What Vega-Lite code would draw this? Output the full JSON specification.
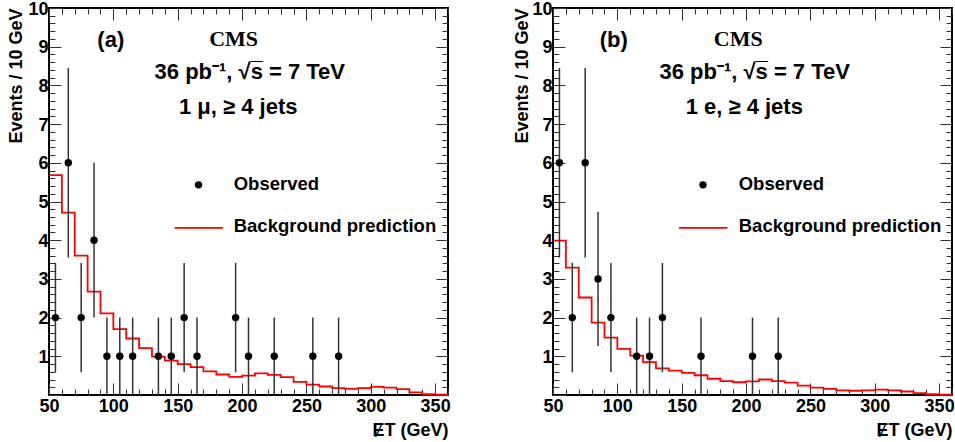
{
"$schema": "https://vega.github.io/schema/vega-lite/v6.json",
"padding": {"left": 6, "top": -1, "right": 0, "bottom": 0},
"spacing": 59,
"datasets": {
"bkgA": [{"x":50,"y":5.68},{"x":60,"y":4.71},{"x":70,"y":3.6},{"x":80,"y":2.67},{"x":90,"y":2.11},{"x":100,"y":1.7},{"x":110,"y":1.46},{"x":120,"y":1.21},{"x":130,"y":0.99},{"x":140,"y":0.89},{"x":150,"y":0.8},{"x":160,"y":0.72},{"x":170,"y":0.61},{"x":180,"y":0.53},{"x":190,"y":0.47},{"x":200,"y":0.5},{"x":210,"y":0.56},{"x":220,"y":0.52},{"x":230,"y":0.46},{"x":240,"y":0.34},{"x":250,"y":0.27},{"x":260,"y":0.22},{"x":270,"y":0.18},{"x":280,"y":0.16},{"x":290,"y":0.18},{"x":300,"y":0.21},{"x":310,"y":0.19},{"x":320,"y":0.15},{"x":330,"y":0.07},{"x":340,"y":0.02},{"x":350,"y":0.01},{"x":360,"y":0.01}],
"bkgB": [{"x":50,"y":3.99},{"x":60,"y":3.29},{"x":70,"y":2.52},{"x":80,"y":1.87},{"x":90,"y":1.48},{"x":100,"y":1.19},{"x":110,"y":1.02},{"x":120,"y":0.85},{"x":130,"y":0.69},{"x":140,"y":0.63},{"x":150,"y":0.57},{"x":160,"y":0.51},{"x":170,"y":0.42},{"x":180,"y":0.36},{"x":190,"y":0.33},{"x":200,"y":0.35},{"x":210,"y":0.4},{"x":220,"y":0.36},{"x":230,"y":0.32},{"x":240,"y":0.24},{"x":250,"y":0.19},{"x":260,"y":0.16},{"x":270,"y":0.12},{"x":280,"y":0.11},{"x":290,"y":0.12},{"x":300,"y":0.14},{"x":310,"y":0.12},{"x":320,"y":0.09},{"x":330,"y":0.05},{"x":340,"y":0.02},{"x":350,"y":0.01},{"x":360,"y":0.01}],
"obsA": [{"x":55,"n":2,"lo":0.586,"hi":3.414},{"x":65,"n":6,"lo":3.551,"hi":8.449},{"x":75,"n":2,"lo":0.586,"hi":3.414},{"x":85,"n":4,"lo":2,"hi":6},{"x":95,"n":1,"lo":0,"hi":2},{"x":105,"n":1,"lo":0,"hi":2},{"x":115,"n":1,"lo":0,"hi":2},{"x":135,"n":1,"lo":0,"hi":2},{"x":145,"n":1,"lo":0,"hi":2},{"x":155,"n":2,"lo":0.586,"hi":3.414},{"x":165,"n":1,"lo":0,"hi":2},{"x":195,"n":2,"lo":0.586,"hi":3.414},{"x":205,"n":1,"lo":0,"hi":2},{"x":225,"n":1,"lo":0,"hi":2},{"x":255,"n":1,"lo":0,"hi":2},{"x":275,"n":1,"lo":0,"hi":2}],
"obsB": [{"x":55,"n":6,"lo":3.551,"hi":8.449},{"x":65,"n":2,"lo":0.586,"hi":3.414},{"x":75,"n":6,"lo":3.551,"hi":8.449},{"x":85,"n":3,"lo":1.268,"hi":4.732},{"x":95,"n":2,"lo":0.586,"hi":3.414},{"x":115,"n":1,"lo":0,"hi":2},{"x":125,"n":1,"lo":0,"hi":2},{"x":135,"n":2,"lo":0.586,"hi":3.414},{"x":165,"n":1,"lo":0,"hi":2},{"x":205,"n":1,"lo":0,"hi":2},{"x":225,"n":1,"lo":0,"hi":2}],
"headA": [{"x":98,"y":9.17,"label":"(a)"},{"x":206,"y":8.35,"label":"36 pb⁻¹, √s̅ = 7 TeV"},{"x":197,"y":7.43,"label":"1 μ, ≥ 4 jets"}],
"headB": [{"x":97.2,"y":9.17,"label":"(b)"},{"x":206.7,"y":8.35,"label":"36 pb⁻¹, √s̅ = 7 TeV"},{"x":198.6,"y":7.43,"label":"1 e, ≥ 4 jets"}],
"cmsA": [{"x":193.4,"y":9.21,"label":"CMS"}],
"cmsB": [{"x":193.9,"y":9.21,"label":"CMS"}],
"legTxtA": [{"x":193.5,"y":5.46,"label":"Observed"},{"x":193.5,"y":4.37,"label":"Background prediction"}],
"legTxtB": [{"x":194.3,"y":5.46,"label":"Observed"},{"x":194.3,"y":4.37,"label":"Background prediction"}],
"legDotA": [{"x":166.2,"y":5.43}],
"legDotB": [{"x":166.5,"y":5.43}],
"legLineA": [{"x":147.6,"x2":185.2,"y":4.32}],
"legLineB": [{"x":147.9,"x2":185.5,"y":4.32}]
},
"hconcat": [
{
"width": 399, "height": 387,
"layer": [
{"data": {"name": "bkgA"}, "mark": {"type": "line", "interpolate": "step-after", "color": "#ff0000", "strokeWidth": 1.8},
 "encoding": {
  "x": {"field": "x", "type": "quantitative", "scale": {"domain": [50, 360], "nice": false, "zero": false},
   "axis": {"orient": "bottom", "values": [50,60,70,80,90,100,110,120,130,140,150,160,170,180,190,200,210,220,230,240,250,260,270,280,290,300,310,320,330,340,350,360],
    "tickSize": {"condition": {"test": "datum.value % 50 === 0", "value": -12}, "value": -6},
    "labelExpr": "datum.value % 50 === 0 && datum.value <= 350 ? format(datum.value, 'd') : ''",
    "labelPadding": 14, "title": "ɆT (GeV)", "titleAnchor": "end", "titlePadding": 0}},
  "y": {"field": "y", "type": "quantitative", "scale": {"domain": [0, 10], "nice": false, "zero": true},
   "axis": {"orient": "left", "values": [0,0.2,0.4,0.6,0.8,1,1.2,1.4,1.6,1.8,2,2.2,2.4,2.6,2.8,3,3.2,3.4,3.6,3.8,4,4.2,4.4,4.6,4.8,5,5.2,5.4,5.6,5.8,6,6.2,6.4,6.6,6.8,7,7.2,7.4,7.6,7.8,8,8.2,8.4,8.6,8.8,9,9.2,9.4,9.6,9.8,10],
    "tickSize": {"condition": {"test": "abs(datum.value - round(datum.value)) < 0.001", "value": -12}, "value": -6},
    "labelExpr": "datum.value >= 1 && abs(datum.value - round(datum.value)) < 0.001 ? format(datum.value, 'd') : ''",
    "labelPadding": 13, "labelOffset": 1, "title": "Events / 10 GeV", "titleAnchor": "end", "titlePadding": 2}}
 }},
{"data": {"name": "obsA"}, "mark": {"type": "rule", "color": "#333333", "strokeWidth": 1.5},
 "encoding": {
  "x": {"field": "x", "type": "quantitative",
   "axis": {"orient": "top", "values": [50,60,70,80,90,100,110,120,130,140,150,160,170,180,190,200,210,220,230,240,250,260,270,280,290,300,310,320,330,340,350,360],
    "tickSize": {"condition": {"test": "datum.value % 50 === 0", "value": -12}, "value": -6}, "labels": false, "title": null}},
  "y": {"field": "lo", "type": "quantitative",
   "axis": {"orient": "right", "values": [0,0.2,0.4,0.6,0.8,1,1.2,1.4,1.6,1.8,2,2.2,2.4,2.6,2.8,3,3.2,3.4,3.6,3.8,4,4.2,4.4,4.6,4.8,5,5.2,5.4,5.6,5.8,6,6.2,6.4,6.6,6.8,7,7.2,7.4,7.6,7.8,8,8.2,8.4,8.6,8.8,9,9.2,9.4,9.6,9.8,10],
    "tickSize": {"condition": {"test": "abs(datum.value - round(datum.value)) < 0.001", "value": -12}, "value": -6}, "labels": false, "title": null}},
  "y2": {"field": "hi"}
 }},
{"data": {"name": "obsA"}, "mark": {"type": "circle", "color": "black", "opacity": 1, "size": 55},
 "encoding": {"x": {"field": "x", "type": "quantitative", "axis": null}, "y": {"field": "n", "type": "quantitative", "axis": null}}},
{"data": {"name": "headA"}, "mark": {"type": "text", "fontSize": 22, "align": "center", "baseline": "middle", "color": "black"},
 "encoding": {"x": {"field": "x", "type": "quantitative", "axis": null}, "y": {"field": "y", "type": "quantitative", "axis": null}, "text": {"field": "label"}}},
{"data": {"name": "cmsA"}, "mark": {"type": "text", "font": "Liberation Serif", "fontSize": 22, "align": "center", "baseline": "middle", "color": "black"},
 "encoding": {"x": {"field": "x", "type": "quantitative", "axis": null}, "y": {"field": "y", "type": "quantitative", "axis": null}, "text": {"field": "label"}}},
{"data": {"name": "legTxtA"}, "mark": {"type": "text", "fontSize": 18.5, "align": "left", "baseline": "middle", "color": "black"},
 "encoding": {"x": {"field": "x", "type": "quantitative", "axis": null}, "y": {"field": "y", "type": "quantitative", "axis": null}, "text": {"field": "label"}}},
{"data": {"name": "legDotA"}, "mark": {"type": "circle", "color": "black", "opacity": 1, "size": 55},
 "encoding": {"x": {"field": "x", "type": "quantitative", "axis": null}, "y": {"field": "y", "type": "quantitative", "axis": null}}},
{"data": {"name": "legLineA"}, "mark": {"type": "rule", "color": "#ff0000", "strokeWidth": 1.8},
 "encoding": {"x": {"field": "x", "type": "quantitative", "axis": null}, "x2": {"field": "x2"}, "y": {"field": "y", "type": "quantitative", "axis": null}}}
],
"resolve": {"axis": {"x": "independent", "y": "independent"}}
},
{
"width": 399, "height": 387,
"layer": [
{"data": {"name": "bkgB"}, "mark": {"type": "line", "interpolate": "step-after", "color": "#ff0000", "strokeWidth": 1.8},
 "encoding": {
  "x": {"field": "x", "type": "quantitative", "scale": {"domain": [50, 360], "nice": false, "zero": false},
   "axis": {"orient": "bottom", "values": [50,60,70,80,90,100,110,120,130,140,150,160,170,180,190,200,210,220,230,240,250,260,270,280,290,300,310,320,330,340,350,360],
    "tickSize": {"condition": {"test": "datum.value % 50 === 0", "value": -12}, "value": -6},
    "labelExpr": "datum.value % 50 === 0 && datum.value <= 350 ? format(datum.value, 'd') : ''",
    "labelPadding": 14, "title": "ɆT (GeV)", "titleAnchor": "end", "titlePadding": 0}},
  "y": {"field": "y", "type": "quantitative", "scale": {"domain": [0, 10], "nice": false, "zero": true},
   "axis": {"orient": "left", "values": [0,0.2,0.4,0.6,0.8,1,1.2,1.4,1.6,1.8,2,2.2,2.4,2.6,2.8,3,3.2,3.4,3.6,3.8,4,4.2,4.4,4.6,4.8,5,5.2,5.4,5.6,5.8,6,6.2,6.4,6.6,6.8,7,7.2,7.4,7.6,7.8,8,8.2,8.4,8.6,8.8,9,9.2,9.4,9.6,9.8,10],
    "tickSize": {"condition": {"test": "abs(datum.value - round(datum.value)) < 0.001", "value": -12}, "value": -6},
    "labelExpr": "datum.value >= 1 && abs(datum.value - round(datum.value)) < 0.001 ? format(datum.value, 'd') : ''",
    "labelPadding": 13, "labelOffset": 1, "title": "Events / 10 GeV", "titleAnchor": "end", "titlePadding": 0}}
 }},
{"data": {"name": "obsB"}, "mark": {"type": "rule", "color": "#333333", "strokeWidth": 1.5},
 "encoding": {
  "x": {"field": "x", "type": "quantitative",
   "axis": {"orient": "top", "values": [50,60,70,80,90,100,110,120,130,140,150,160,170,180,190,200,210,220,230,240,250,260,270,280,290,300,310,320,330,340,350,360],
    "tickSize": {"condition": {"test": "datum.value % 50 === 0", "value": -12}, "value": -6}, "labels": false, "title": null}},
  "y": {"field": "lo", "type": "quantitative",
   "axis": {"orient": "right", "values": [0,0.2,0.4,0.6,0.8,1,1.2,1.4,1.6,1.8,2,2.2,2.4,2.6,2.8,3,3.2,3.4,3.6,3.8,4,4.2,4.4,4.6,4.8,5,5.2,5.4,5.6,5.8,6,6.2,6.4,6.6,6.8,7,7.2,7.4,7.6,7.8,8,8.2,8.4,8.6,8.8,9,9.2,9.4,9.6,9.8,10],
    "tickSize": {"condition": {"test": "abs(datum.value - round(datum.value)) < 0.001", "value": -12}, "value": -6}, "labels": false, "title": null}},
  "y2": {"field": "hi"}
 }},
{"data": {"name": "obsB"}, "mark": {"type": "circle", "color": "black", "opacity": 1, "size": 55},
 "encoding": {"x": {"field": "x", "type": "quantitative", "axis": null}, "y": {"field": "n", "type": "quantitative", "axis": null}}},
{"data": {"name": "headB"}, "mark": {"type": "text", "fontSize": 22, "align": "center", "baseline": "middle", "color": "black"},
 "encoding": {"x": {"field": "x", "type": "quantitative", "axis": null}, "y": {"field": "y", "type": "quantitative", "axis": null}, "text": {"field": "label"}}},
{"data": {"name": "cmsB"}, "mark": {"type": "text", "font": "Liberation Serif", "fontSize": 22, "align": "center", "baseline": "middle", "color": "black"},
 "encoding": {"x": {"field": "x", "type": "quantitative", "axis": null}, "y": {"field": "y", "type": "quantitative", "axis": null}, "text": {"field": "label"}}},
{"data": {"name": "legTxtB"}, "mark": {"type": "text", "fontSize": 18.5, "align": "left", "baseline": "middle", "color": "black"},
 "encoding": {"x": {"field": "x", "type": "quantitative", "axis": null}, "y": {"field": "y", "type": "quantitative", "axis": null}, "text": {"field": "label"}}},
{"data": {"name": "legDotB"}, "mark": {"type": "circle", "color": "black", "opacity": 1, "size": 55},
 "encoding": {"x": {"field": "x", "type": "quantitative", "axis": null}, "y": {"field": "y", "type": "quantitative", "axis": null}}},
{"data": {"name": "legLineB"}, "mark": {"type": "rule", "color": "#ff0000", "strokeWidth": 1.8},
 "encoding": {"x": {"field": "x", "type": "quantitative", "axis": null}, "x2": {"field": "x2"}, "y": {"field": "y", "type": "quantitative", "axis": null}}}
],
"resolve": {"axis": {"x": "independent", "y": "independent"}}
}
],
"config": {
 "background": "white",
 "view": {"stroke": "black", "strokeWidth": 2},
 "axis": {"domain": false, "grid": false, "labelFont": "Liberation Sans", "labelFontWeight": "bold", "labelFontSize": 18, "labelColor": "black", "titleFont": "Liberation Sans", "titleFontWeight": "bold", "titleFontSize": 18, "titleColor": "black", "tickColor": "#333333", "tickWidth": 1, "labelFlush": false, "labelOverlap": false},
 "text": {"font": "Liberation Sans", "fontWeight": "bold"}
}
}
